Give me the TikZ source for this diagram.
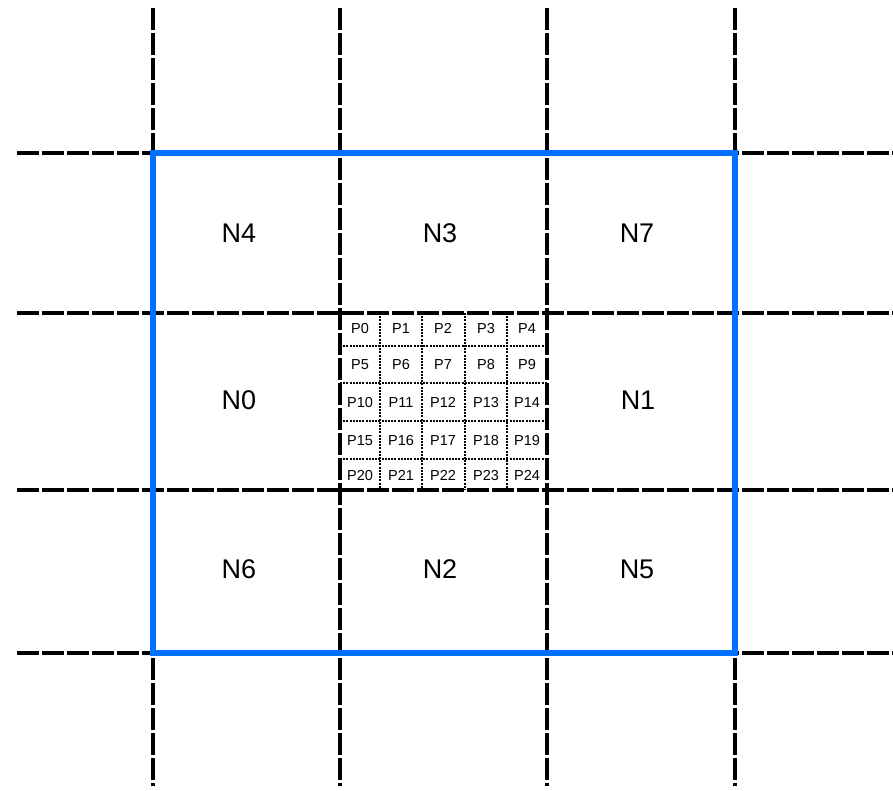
\documentclass[tikz,border=0pt]{standalone}
\usepackage{fontspec}
\setmainfont{Liberation Sans}
\definecolor{gridblue}{RGB}{0,112,255}
\begin{document}
\begin{tikzpicture}[x=1pt,y=-1pt,
  gridline/.style={line width=4pt,dash pattern=on 22pt off 3pt},
  subline/.style={line width=2.8pt,dash pattern=on 2pt off 1.2pt},
  frame/.style={draw=gridblue,line width=6.5pt},
  nlabel/.style={font=\fontsize{27}{27}\selectfont,inner sep=0pt,anchor=base},
  plabel/.style={font=\fontsize{14.5}{14.5}\selectfont,inner sep=0pt,anchor=base}]
\useasboundingbox (0,0) rectangle (893,790);
% main dashed grid
\foreach \x [count=\i] in {153,340,547,735} {
  \coordinate (vt\i) at (\x,8);
  \coordinate (vb\i) at (\x,786);
  \draw[gridline] (vt\i) -- (vb\i);
}
\foreach \y [count=\i] in {153,313,490,653} {
  \coordinate (hl\i) at (17,\y);
  \coordinate (hr\i) at (893,\y);
  \draw[gridline] (hl\i) -- (hr\i);
}
% fine dotted grid
\foreach \x [count=\i] in {380,422,465,507} {
  \coordinate (st\i) at (\x,313);
  \coordinate (sb\i) at (\x,490);
  \draw[subline] (st\i) -- (sb\i);
}
\foreach \y [count=\i] in {346,383,421,459} {
  \coordinate (sl\i) at (340,\y);
  \coordinate (sr\i) at (547,\y);
  \draw[subline] (sl\i) -- (sr\i);
}
% blue frame
\coordinate (fa) at (153,153);
\coordinate (fb) at (735,653);
\draw[frame] (fa) rectangle (fb);
% N labels (base line positions)
\node[nlabel] (N4) at (239,242) {N4};
\node[nlabel] (N3) at (440,242) {N3};
\node[nlabel] (N7) at (637,242) {N7};
\node[nlabel] (N0) at (239,409) {N0};
\node[nlabel] (N1) at (638,409) {N1};
\node[nlabel] (N6) at (239,578) {N6};
\node[nlabel] (N2) at (440,578) {N2};
\node[nlabel] (N5) at (637,578) {N5};
% P labels (base line positions)
\foreach \r/\yy in {0/333,1/369,2/407,3/445,4/480} {
  \foreach \c/\xx in {0/360,1/401,2/443,3/486,4/527} {
    \pgfmathtruncatemacro{\k}{\r*5+\c}
    \node[plabel] (P\k) at (\xx,\yy) {P\k};
  }
}
\end{tikzpicture}
\end{document}
